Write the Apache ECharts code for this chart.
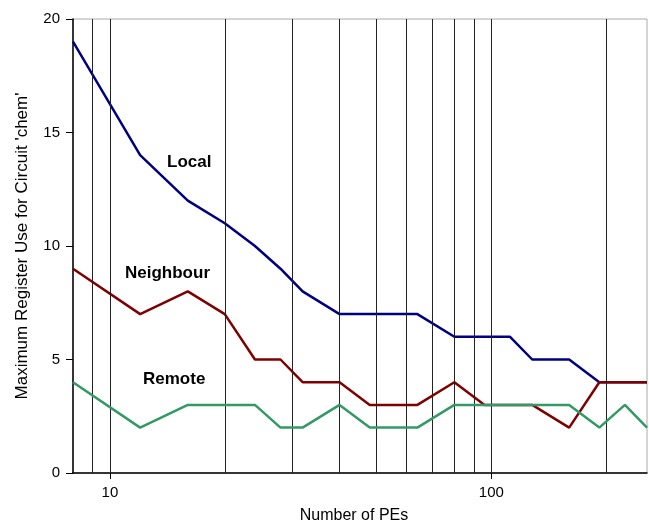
<!DOCTYPE html>
<html>
<head>
<meta charset="utf-8">
<script src="https://cdn.jsdelivr.net/npm/echarts@6/dist/echarts.min.js"></script>
<style>
    html, body { margin: 0; padding: 0; background: #fff; }
    #chart { width: 649px; height: 524px; }
</style>
</head>
<body>
<div id="chart"></div>
<script>
// number of PEs (log axis)
const pes = [8, 12, 16, 20, 24, 28, 32, 40, 48, 64, 80, 96, 112, 128, 160, 192, 224, 256];
const local = [19, 14, 12, 11, 10, 9, 8, 7, 7, 7, 6, 6, 6, 5, 5, 4, 4, 4];
const neighbour = [9, 7, 8, 7, 5, 5, 4, 4, 3, 3, 4, 3, 3, 3, 2, 4, 4, 4];
const remote = [4, 2, 3, 3, 3, 2, 2, 3, 2, 2, 3, 3, 3, 3, 3, 2, 3, 2];
// vertical reference lines
const gridLines = [9, 10, 20, 30, 40, 50, 60, 70, 80, 90, 100, 200];
const xTicks = [10, 100];

const FONT = 'Liberation Sans, Arial, sans-serif';

function pairs(vals) {
    return pes.map((p, i) => [p, vals[i]]);
}

const chart = echarts.init(document.getElementById('chart'));

const option = {
    animation: false,
    grid: {
        left: 73,
        right: 2,
        top: 19,
        bottom: 51,
        outerBoundsMode: 'none',
        show: true,
        borderColor: '#aaa',
        borderWidth: 1
    },
    xAxis: {
        type: 'log',
        logBase: 10,
        min: 8,
        max: 256,
        name: 'Number of PEs',
        nameLocation: 'middle',
        nameGap: 35,
        nameTextStyle: { fontFamily: FONT, fontSize: 16, color: '#000', padding: [0, 12, 0, 0] },
        axisLine: { lineStyle: { color: '#000', width: 1.5 } },
        axisTick: { customValues: xTicks, length: 6, lineStyle: { color: '#000' } },
        axisLabel: { customValues: xTicks, fontFamily: FONT, fontSize: 15, color: '#000', margin: 12 },
        splitLine: { show: false }
    },
    yAxis: {
        type: 'value',
        min: 0,
        max: 20,
        interval: 5,
        name: "Maximum Register Use for Circuit 'chem'",
        nameLocation: 'middle',
        nameGap: 42,
        nameTextStyle: { fontFamily: FONT, fontSize: 17, color: '#000' },
        axisLine: { show: true, lineStyle: { color: '#000', width: 1.5 } },
        axisTick: { show: true, length: 7, lineStyle: { color: '#000' } },
        axisLabel: { fontFamily: FONT, fontSize: 15, color: '#000', margin: 13 },
        splitLine: { show: false }
    },
    series: [
        {
            type: 'line',
            data: [],
            silent: true,
            z: 1,
            markLine: {
                silent: true,
                symbol: 'none',
                label: { show: false },
                lineStyle: { color: '#222', width: 1, type: 'solid' },
                data: gridLines.map(v => ({ xAxis: v }))
            }
        },
        {
            name: 'Local',
            type: 'line',
            data: pairs(local),
            showSymbol: false,
            lineStyle: { color: '#000080', width: 2.5 },
            itemStyle: { color: '#000080' },
            z: 3
        },
        {
            name: 'Neighbour',
            type: 'line',
            data: pairs(neighbour),
            showSymbol: false,
            lineStyle: { color: '#800000', width: 2.5 },
            itemStyle: { color: '#800000' },
            z: 4
        },
        {
            name: 'Remote',
            type: 'line',
            data: pairs(remote),
            showSymbol: false,
            lineStyle: { color: '#339966', width: 2.5 },
            itemStyle: { color: '#339966' },
            z: 5
        }
    ],
    graphic: [
        { type: 'text', left: 167, top: 154, style: { text: 'Local', font: 'bold 17px ' + FONT, fill: '#000' } },
        { type: 'text', left: 125, top: 265, style: { text: 'Neighbour', font: 'bold 17px ' + FONT, fill: '#000' } },
        { type: 'text', left: 143, top: 371, style: { text: 'Remote', font: 'bold 17px ' + FONT, fill: '#000' } }
    ]
};

chart.setOption(option);
</script>
</body>
</html>
